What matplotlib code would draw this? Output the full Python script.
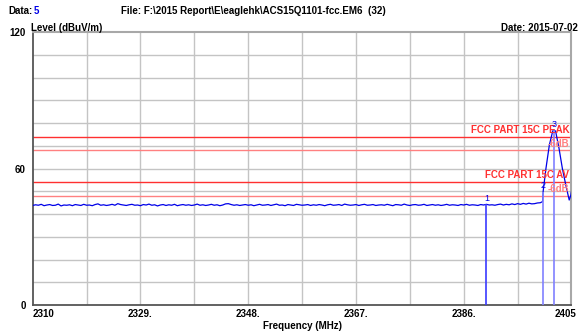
"""
EMI scan plot: radiated emission level vs frequency with FCC 15C limits.
"""

import matplotlib

matplotlib.use("Agg")
import matplotlib.pyplot as plt
import numpy as np
from matplotlib.transforms import ScaledTranslation

plt.rcParams["font.family"] = ["Liberation Sans", "DejaVu Sans"]
plt.rcParams["font.weight"] = "bold"

# noise floor, 0.5 MHz steps from 2310 to 2399.5 MHz
noise_start = 2310.0
noise_step = 0.5
noise_level = [
    43.8, 44.1, 43.9, 44.3, 43.7, 44.0, 44.2, 43.8, 43.9, 44.4, 43.6, 44.0, 43.9, 44.1, 43.7, 44.2, 44.0, 43.8, 44.3, 43.9,
    44.0, 43.7, 44.2, 44.5, 43.9, 44.1, 43.8, 44.0, 44.3, 43.9, 44.6, 44.2, 44.0, 43.8, 44.1, 44.3, 43.9, 44.0, 43.7, 44.2,
    44.0, 44.4, 43.9, 44.1, 43.6, 44.0, 44.2, 43.8, 44.1, 43.9, 44.3, 43.7, 44.0, 44.2, 43.9, 44.1, 43.8, 44.0, 44.4, 43.9,
    44.1, 43.8, 44.0, 44.3, 43.9, 44.1, 43.7, 44.0, 44.5, 44.6, 44.2, 43.9, 44.1, 43.8, 44.0, 44.2, 43.9, 44.1, 43.7, 44.0,
    44.3, 43.9, 44.0, 44.2, 43.8, 44.1, 44.4, 43.9, 44.0, 43.7, 44.2, 44.0, 43.8, 44.3, 44.1, 43.9, 44.0, 44.2, 43.8, 44.1,
    43.9, 44.2, 44.0, 43.7, 44.1, 44.3, 43.9, 44.0, 44.2, 43.8, 44.4, 44.1, 43.9, 44.0, 44.2, 43.8, 44.1, 44.3, 43.9, 44.0,
    44.2, 43.8, 44.0, 44.1, 43.9, 44.3, 44.0, 43.7, 44.2, 44.1, 43.9, 44.4, 44.0, 43.8, 44.1, 44.2, 43.9, 44.0, 44.3, 43.8,
    44.0, 44.2, 43.9, 44.1, 43.8, 44.0, 44.3, 43.9, 44.1, 44.0, 43.8, 44.2, 44.0, 44.3, 43.9, 44.1, 44.0, 43.8, 44.2, 44.0,
    44.3, 44.0, 44.1, 43.9, 44.2, 44.4, 44.0, 44.3, 44.1, 44.5, 44.2, 44.6, 44.3, 44.7, 44.4, 44.8, 44.5, 44.6, 44.9, 45.0,
]

# carrier near the band edge
peak_freq = [2399.9, 2400.0, 2400.5, 2401.1, 2401.7, 2401.9, 2402.2, 2402.8, 2403.4, 2404.0, 2404.6, 2404.9, 2405.0]
peak_level = [45.5, 49.9, 60.1, 70.4, 76.6, 77.0, 76.5, 69.0, 60.0, 52.8, 46.2, 48.4, 49.9]

# markers
marker_freq = [2390.0, 2400.0, 2401.9]
marker_level = [44.3, 49.9, 77.0]
marker_names = ["1", "2", "3"]

# limit lines
limit_peak = 74
limit_av = 54
margin_db = 6

x_min, x_max = 2310, 2405
x_tick_values = [2310, 2329, 2348, 2367, 2386, 2405]
x_tick_labels = ["2310", "2329.", "2348.", "2367.", "2386.", "2405"]
y_tick_values = [0, 60, 120]

TRACE_BLUE = "#0000e8"
RED = "#ff3030"
PINK = "#ff8080"

fig = plt.figure(figsize=(5.81, 3.34), dpi=100)
ax = fig.add_axes([0.0563, 0.0868, 0.9273, 0.8165])

# Grid
for gx in np.linspace(x_min, x_max, 11)[1:-1]:
    ax.axvline(gx, color="#c4c4c4", lw=1.0, zorder=1)
for gy in range(10, 120, 10):
    ax.axhline(gy, color="#c4c4c4", lw=1.0, zorder=1)

# Limits
ax.axhline(limit_peak, color=RED, lw=1.0, zorder=2)
ax.axhline(limit_peak - margin_db, color=PINK, lw=1.0, zorder=2)
ax.axhline(limit_av, color=RED, lw=1.0, zorder=2)
ax.axhline(limit_av - margin_db, color=PINK, lw=1.0, zorder=2)

text_x = 2404.6
ax.text(text_x, limit_peak + 0.8, "FCC PART 15C PEAK", color=RED, fontsize=7, ha="right", va="bottom", zorder=4)
ax.text(text_x, limit_peak - margin_db + 0.8, "-6dB", color=PINK, fontsize=7, ha="right", va="bottom", zorder=4)
ax.text(text_x, limit_av + 0.8, "FCC PART 15C AV", color=RED, fontsize=7, ha="right", va="bottom", zorder=4)
ax.text(text_x, limit_av - margin_db + 0.8, "-6dB", color=PINK, fontsize=7, ha="right", va="bottom", zorder=4)

# Trace
noise_freq = noise_start + noise_step * np.arange(len(noise_level))
freq = np.concatenate([noise_freq, peak_freq])
level = np.concatenate([noise_level, peak_level])
ax.plot(freq, level, color=TRACE_BLUE, lw=0.9, zorder=3)

# Markers
marker_colors = ["#3a3aff", "#8080ff", "#8080ff"]
for f, lv, name, c in zip(marker_freq, marker_level, marker_names, marker_colors):
    ax.vlines(f, 0, lv, color=c, lw=1.2, zorder=3)
    ax.text(f, lv + 0.6, name, color=TRACE_BLUE, fontsize=6.5, fontweight="normal", ha="center", va="bottom", zorder=4)

ax.set_xlim(x_min, x_max)
ax.set_ylim(0, 120)
ax.set_xticks(x_tick_values)
ax.set_xticklabels(x_tick_labels, fontsize=7, fontweight="bold")
ax.set_yticks(y_tick_values)
ax.set_yticklabels([str(v) for v in y_tick_values], fontsize=7, fontweight="bold")
ax.tick_params(length=0, pad=3)
ax.tick_params(axis="y", pad=5)
labels = ax.get_xticklabels()
labels[0].set_horizontalalignment("left")
labels[-1].set_transform(labels[-1].get_transform() + ScaledTranslation(-4 / 72, 0, fig.dpi_scale_trans))

for side in ("left", "bottom"):
    ax.spines[side].set_color("#555555")
    ax.spines[side].set_linewidth(1.3)
for side in ("top", "right"):
    ax.spines[side].set_color("#a8a8a8")
    ax.spines[side].set_linewidth(1.5)

ax.set_xlabel("Frequency (MHz)", fontsize=7, fontweight="bold", labelpad=1)

# Header texts
fig.text(8 / 581, 1 - 11 / 334, "Data:", fontsize=7, fontweight="bold", va="center")
fig.text(34 / 581, 1 - 11 / 334, "5", fontsize=7, fontweight="bold", color=TRACE_BLUE, va="center")
fig.text(121 / 581, 1 - 11 / 334, "File: F:\\2015 Report\\E\\eaglehk\\ACS15Q1101-fcc.EM6  (32)",
         fontsize=7, fontweight="bold", va="center")
fig.text(31 / 581, 1 - 28 / 334, "Level (dBuV/m)", fontsize=7, fontweight="bold", va="center")
fig.text(578 / 581, 1 - 28 / 334, "Date: 2015-07-02", fontsize=7, fontweight="bold", va="center", ha="right")

fig.savefig("out.png", dpi=100)
